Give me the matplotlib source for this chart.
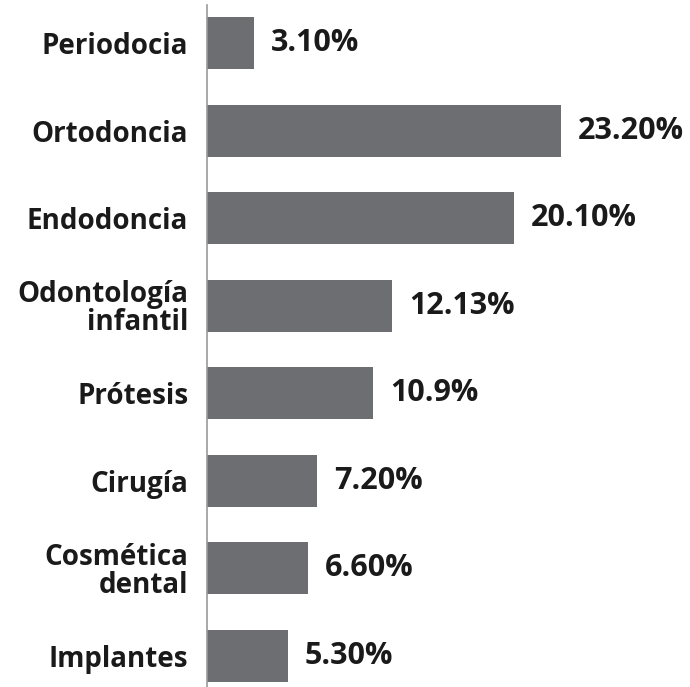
import matplotlib
matplotlib.use("Agg")
import matplotlib.pyplot as plt

# Data
categories = ["Periodocia", "Ortodoncia", "Endodoncia", "Odontología\ninfantil",
              "Prótesis", "Cirugía", "Cosmética\ndental", "Implantes"]
values = [3.10, 23.20, 20.10, 12.13, 10.9, 7.20, 6.60, 5.30]
value_labels = ["3.10%", "23.20%", "20.10%", "12.13%", "10.9%", "7.20%", "6.60%", "5.30%"]

bar_color = "#6d6e71"
text_color = "#1a1a1a"
font = "Open Sans"

fig = plt.figure(figsize=(6.9, 6.87), dpi=100)
ax = fig.add_axes([0.3, 0.0, 0.7, 682 / 687])

ypos = list(range(len(categories)))
ax.barh(ypos, values, height=0.594, color=bar_color)

ax.set_xlim(0, 31.67)
ax.set_ylim(7.354, -0.434)

# Value labels at bar ends
for y, v, lab in zip(ypos, values, value_labels):
    ax.annotate(lab, xy=(v, y), xytext=(17, 0), textcoords="offset pixels",
                va="center", ha="left", fontsize=22, fontweight="bold",
                family=font, color=text_color)

# Category labels on the left
ax.set_yticks(ypos)
ax.set_yticklabels(categories, fontsize=20, fontweight="bold", family=font,
                   color=text_color, linespacing=0.95, ha="right")
ax.tick_params(axis="y", length=0, pad=13.5)
ax.set_xticks([])

for side in ["top", "right", "bottom"]:
    ax.spines[side].set_visible(False)
ax.spines["left"].set_color("#9a9a9a")
ax.spines["left"].set_linewidth(1.2)

fig.savefig("out.png", dpi=100)
